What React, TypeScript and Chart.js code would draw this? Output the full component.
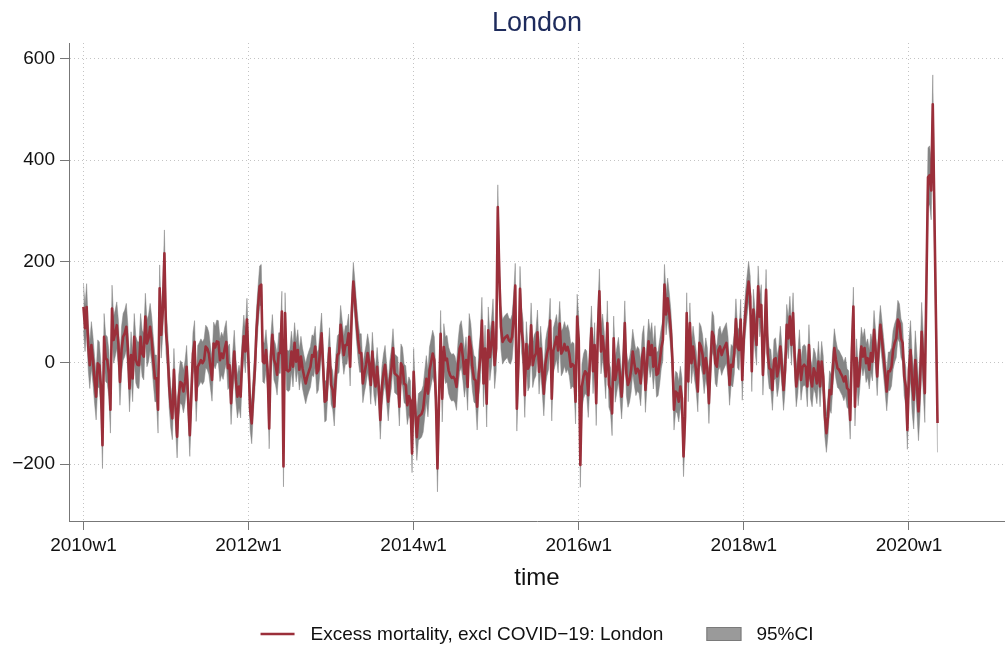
import React, { useEffect, useRef } from "react";
import { Chart, registerables } from "chart.js";

Chart.register(...registerables);

// ---- data (weekly, Stata %tw: 52 weeks per year) ----
const firstYear = 2010;
const weeksPerYear = 52;

const v2010 = [110, 68, 110, 32, -5, 35, 5, -34, -67, -1, -5, -47, -163, 51, 9, 5, -21, -93, 107, 45, 58, 74, 38, -38, 25, 51, 58, 71, 28, -51, 15, -31, 51, 6, -4, -5, 51, 18, 12, 91, 38, 48, 71, 45, 5, -31, -31, -93, 147, 55, 104, 216];
const v2011 = [61, 25, -47, -87, -110, -14, -87, -146, -67, -38, -41, -57, -38, -8, -74, -143, -61, 18, 41, -74, -8, -2, 5, -1, 5, 32, 28, 18, -8, -34, 38, 30, 42, 41, 5, 18, 9, 28, 41, -11, -5, -80, -21, 22, -34, -67, -47, -67, 10, 52, 22, 85];
const v2012 = [-1, -93, -120, -60, -14, 65, 111, 151, 154, 2, -1, 25, -14, -130, 12, 55, 6, -4, -24, 19, 19, 101, -205, 98, -14, -17, -14, 22, -8, 39, 2, 25, -14, 12, -11, -27, -41, -27, -17, -8, 15, 12, 32, -21, -14, 22, 58, -8, -77, -74, -17, 29];
const v2013 = [-44, -54, -87, -21, 15, 19, 75, 45, 15, 35, 35, 58, -8, 98, 160, 124, 81, 45, 19, 19, -41, -21, -4, 19, -1, -44, 22, -27, -47, -8, -47, -113, -47, -21, -4, -41, -77, -34, -11, 29, -21, -24, -27, -87, -1, -8, -41, -44, -84, -66, -74, -179];
const v2014 = [-18, -94, -147, -107, -104, -101, -91, -61, -32, -61, -15, 1, 18, 5, -68, -209, -71, 57, -71, 31, 5, 8, -15, -25, -30, -28, -33, -48, -2, 28, 37, 11, -22, 5, -48, 51, 31, -9, -32, -35, -87, -22, 11, 83, -41, 28, -81, 64, 11, 37, 80, -5];
const v2015 = [28, 307, 169, 70, 41, 47, 51, 54, 44, 41, 51, 90, 152, -91, -2, 146, 64, 37, -64, 37, -12, -4, 74, -5, 11, 18, 60, -18, 28, -15, -61, -2, 18, 31, 83, -71, 24, 37, 51, 24, 77, 18, 24, 37, 24, 31, 18, -8, -3, -6, -77, 91];
const v2016 = [45, -202, -47, -27, -17, -21, -64, 2, 68, -17, 35, -80, 58, 141, 22, 52, 19, -27, 78, -44, -54, -100, 48, -34, -14, 6, -27, -67, -14, 78, -21, -44, -34, -14, 22, -1, -21, -12, -17, -41, 12, 29, -54, -1, 42, 15, 35, -8, 29, -24, -21, 2];
const v2017 = [29, 45, 154, 95, 127, 98, 65, 6, -93, -57, -60, -77, -47, -70, -185, -106, 98, -37, 78, -1, 32, 6, -17, -57, 39, 32, 15, -21, 9, -11, -80, -1, 61, 52, -1, -8, 25, 32, 15, 25, 32, 39, 12, -44, -4, -8, 19, 86, 30, 25, 85, -34];
const v2018 = [52, 98, 131, 160, 131, -17, 105, 65, 35, 151, 91, 114, -24, 45, 144, 19, -11, -14, -54, 6, 9, -27, -8, 32, -8, -54, -14, 75, 48, 91, 35, 98, 12, -47, -21, 25, -34, -8, -4, -8, -47, 35, -31, -47, -11, -21, -41, 2, -47, 2, -27, -106];
const v2019 = [-139, -106, -54, -62, -14, 29, 6, -11, -14, -21, -27, -37, -27, -50, -54, -113, 22, 111, -87, 9, -47, -14, 32, 12, 29, -1, 9, -14, 19, 2, 65, 25, -27, 35, 75, 45, 12, -21, -57, -17, -17, -8, 25, 39, 48, 85, 78, 48, 39, -27, -47, -133];
const v2020 = [-14, 25, -41, -73, 5, -41, -96, -41, 61, -1, -60, null, 366, 370, 340, 510, null, null, -119];

const yearValues = [v2010, v2011, v2012, v2013, v2014, v2015, v2016, v2017, v2018, v2019, v2020];
// half-width of the 95% CI band, per year
const ciHalfWidth = [46, 42, 40, 38, 46, 44, 44, 40, 40, 38, 58];

const xTickWeeks = [0, 104, 208, 312, 416, 520];
const xTickLabels = ["2010w1", "2012w1", "2014w1", "2016w1", "2018w1", "2020w1"];
const yTicks = [600, 400, 200, 0, -200];

const chartTitle = "London";
const xAxisTitle = "time";
const seriesLabel = "Excess mortality, excl COVID\u221219: London";
const ciLabel = "95%CI";

// ---- styles ----
const FONT = '"Liberation Sans", Arial, Helvetica, sans-serif';
const RED = "#9b2f3a";
const BAND = "#858585";
const TITLE_COLOR = "#1e2b5c";
const AXIS_COLOR = "#777777";
const GRID_COLOR = "#c4c4c4";

function buildPoints() {
  const line: { x: number; y: number | null }[] = [];
  const lower: { x: number; y: number | null }[] = [];
  const upper: { x: number; y: number | null }[] = [];
  yearValues.forEach((vals, yi) => {
    vals.forEach((v, wi) => {
      const x = yi * weeksPerYear + wi;
      const hw = ciHalfWidth[yi];
      line.push({ x, y: v });
      lower.push({ x, y: v === null ? null : v - hw });
      upper.push({ x, y: v === null ? null : v + hw });
    });
  });
  return { line, lower, upper };
}

const textPlugin = {
  id: "stataText",
  afterDraw(chart: any) {
    const { ctx, chartArea } = chart;
    const cx = (chartArea.left + chartArea.right) / 2;
    ctx.save();
    ctx.textAlign = "center";
    ctx.textBaseline = "alphabetic";
    ctx.fillStyle = TITLE_COLOR;
    ctx.font = `27px ${FONT}`;
    ctx.fillText(chartTitle, cx, 31);

    ctx.fillStyle = "#111111";
    ctx.font = `24px ${FONT}`;
    ctx.fillText(xAxisTitle, cx, 585);

    // legend
    ctx.font = `19px ${FONT}`;
    const w1 = ctx.measureText(seriesLabel).width;
    const w2 = ctx.measureText(ciLabel).width;
    const lineLen = 34, gap1 = 16, gap2 = 43, boxW = 35, boxH = 14, gap3 = 15;
    const total = lineLen + gap1 + w1 + gap2 + boxW + gap3 + w2;
    let x = cx - total / 2;
    const yMid = 634;
    ctx.strokeStyle = RED;
    ctx.lineWidth = 2.6;
    ctx.beginPath();
    ctx.moveTo(x, yMid);
    ctx.lineTo(x + lineLen, yMid);
    ctx.stroke();
    x += lineLen + gap1;
    ctx.textAlign = "left";
    ctx.fillStyle = "#111111";
    ctx.fillText(seriesLabel, x, 640);
    x += w1 + gap2;
    ctx.fillStyle = "#9a9a9a";
    ctx.fillRect(x, yMid - boxH / 2, boxW, boxH);
    ctx.strokeStyle = "#7a7a7a";
    ctx.lineWidth = 1;
    ctx.strokeRect(x + 0.5, yMid - boxH / 2 + 0.5, boxW - 1, boxH - 1);
    x += boxW + gap3;
    ctx.fillStyle = "#111111";
    ctx.fillText(ciLabel, x, 640);
    ctx.restore();
  },
};

export default function App() {
  const canvasRef = useRef<HTMLCanvasElement | null>(null);

  useEffect(() => {
    if (!canvasRef.current) return;
    const { line, lower, upper } = buildPoints();
    const chart = new Chart(canvasRef.current, {
      type: "line",
      data: {
        datasets: [
          {
            label: seriesLabel,
            data: line as any,
            borderColor: RED,
            backgroundColor: RED,
            borderWidth: 2.6,
            pointRadius: 0,
            tension: 0,
            spanGaps: true,
            fill: false,
            borderJoinStyle: "round",
          },
          {
            label: "lower",
            data: lower as any,
            borderColor: BAND,
            borderWidth: 0.5,
            pointRadius: 0,
            tension: 0,
            spanGaps: true,
            fill: false,
          },
          {
            label: ciLabel,
            data: upper as any,
            borderColor: BAND,
            backgroundColor: BAND,
            borderWidth: 0.5,
            pointRadius: 0,
            tension: 0,
            spanGaps: true,
            fill: 1,
          },
        ],
      },
      options: {
        animation: false,
        responsive: false,
        events: [],
        layout: { padding: { top: 43, left: 0, right: 0, bottom: 0 } },
        plugins: {
          legend: { display: false },
          tooltip: { enabled: false },
          title: { display: false },
        },
        scales: {
          x: {
            type: "linear",
            min: -9.1,
            max: 580.5,
            afterBuildTicks: (axis: any) => {
              axis.ticks = xTickWeeks.map((v) => ({ value: v }));
            },
            afterFit: (axis: any) => {
              axis.height = 127;
            },
            ticks: {
              autoSkip: false,
              maxRotation: 0,
              padding: 4,
              color: "#111111",
              font: { family: FONT, size: 19 },
              callback: (value: any) => {
                const i = xTickWeeks.indexOf(Number(value));
                return i >= 0 ? xTickLabels[i] : "";
              },
            },
            grid: {
              color: GRID_COLOR,
              lineWidth: 1,
              tickLength: 9,
              tickColor: AXIS_COLOR,
              tickWidth: 1,
              drawTicks: true,
            },
            border: { display: true, color: AXIS_COLOR, width: 1, dash: [1, 3] },
          },
          y: {
            type: "linear",
            min: -312.5,
            max: 631,
            afterBuildTicks: (axis: any) => {
              axis.ticks = yTicks.map((v) => ({ value: v }));
            },
            afterFit: (axis: any) => {
              axis.width = 69;
            },
            ticks: {
              padding: 5,
              color: "#111111",
              font: { family: FONT, size: 19 },
              callback: (value: any) => String(value).replace("-", "\u2212"),
            },
            grid: {
              color: GRID_COLOR,
              lineWidth: 1,
              tickLength: 9,
              tickColor: AXIS_COLOR,
              tickWidth: 1,
            },
            border: { display: true, color: AXIS_COLOR, width: 1, dash: [1, 3] },
          },
        },
      } as any,
      plugins: [textPlugin],
    });
    return () => chart.destroy();
  }, []);

  return (
    <div style={{ position: "absolute", left: 0, top: 0, width: 1005, height: 648, background: "#fff" }}>
      <canvas ref={canvasRef} width={1005} height={648} style={{ display: "block" }} />
    </div>
  );
}
